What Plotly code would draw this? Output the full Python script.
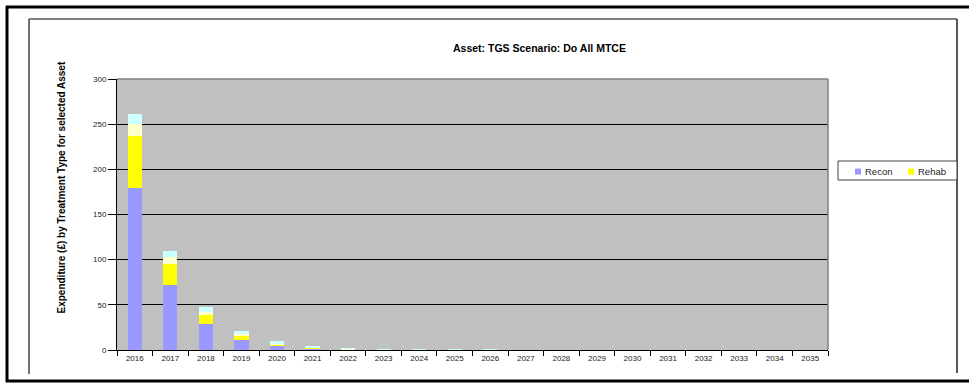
import plotly.graph_objects as go

# Expenditure by treatment type, per year
years = [str(y) for y in range(2016, 2036)]
recon = [179, 71.5, 29, 11.5, 4.5, 1.5, 0.6, 0.3, 0.15, 0.1, 0.05, 0, 0, 0, 0, 0, 0, 0, 0, 0]
rehab = [58, 23.5, 9.5, 4.5, 2.0, 1.0, 0.5, 0.2, 0.1, 0.05, 0.03, 0, 0, 0, 0, 0, 0, 0, 0, 0]
overlay = [13, 8, 3.5, 1.5, 1.0, 0.5, 0.3, 0.2, 0.1, 0.05, 0.02, 0, 0, 0, 0, 0, 0, 0, 0, 0]
surface = [11, 7, 5.5, 3.3, 2.0, 1.4, 0.6, 0.3, 0.15, 0.1, 0.05, 0, 0, 0, 0, 0, 0, 0, 0, 0]

series = [
    ("Recon", recon, "#9999FF"),
    ("Rehab", rehab, "#FFFF00"),
    ("Overlay", overlay, "#FFFFCC"),
    ("Surface", surface, "#CCFFFF"),
]
legend_names = ["Recon", "Rehab"]

W, H = 969, 383
L, R, T, B = 117, 828, 79, 350  # plot area in pixels


def px(x):
    return (x - L) / (R - L)


def py(y):
    return (B - y) / (B - T)


def hline(x0, x1, y, color, width):
    return dict(type="line", xref="paper", yref="paper", x0=px(x0), x1=px(x1),
                y0=py(y), y1=py(y), line=dict(color=color, width=width))


def vline(x, y0, y1, color, width):
    return dict(type="line", xref="paper", yref="paper", x0=px(x), x1=px(x),
                y0=py(y0), y1=py(y1), line=dict(color=color, width=width))


fig = go.Figure()
for name, vals, color in series:
    fig.add_trace(go.Bar(
        x=years, y=vals, name=name, marker=dict(color=color, line=dict(width=0)),
        showlegend=False,
    ))

sans = "Liberation Sans, Arial, sans-serif"

shapes = [
    # outer frame (top, left, bottom)
    hline(6, 969, 7, "black", 3),
    vline(7, 6, 382, "black", 3),
    hline(6, 969, 381, "black", 3),
    # inner frame
    hline(29, 957, 19, "#808080", 2),
    vline(29, 19, 374, "#404040", 1.5),
    vline(957, 19, 373, "#202020", 1.5),
    # plot-area top and right edges
    dict(type="line", xref="paper", yref="paper", x0=0, x1=1, y0=1, y1=1,
         line=dict(color="#808080", width=1.5)),
    dict(type="line", xref="paper", yref="paper", x0=1, x1=1, y0=0, y1=1,
         line=dict(color="#808080", width=1.5)),
    # legend box
    dict(type="rect", xref="paper", yref="paper", x0=px(838), x1=px(957), y0=py(161), y1=py(180),
         line=dict(color="#404040", width=1), fillcolor="white"),
]

annotations = [
    dict(text="<b>Asset: TGS Scenario: Do All MTCE</b>", xref="paper", yref="paper",
         x=px(539), y=py(40), showarrow=False, font=dict(size=10.5)),
    dict(text="<b>Expenditure (£) by Treatment Type for selected Asset</b>", xref="paper",
         yref="paper", x=px(53), y=py(188), textangle=-90, showarrow=False,
         font=dict(size=10)),
]

# legend entries: swatch + label
legend_x = [855, 908]
colors = {n: c for n, _, c in series}
for name, lx in zip(legend_names, legend_x):
    shapes.append(dict(type="rect", xref="paper", yref="paper", x0=px(lx), x1=px(lx + 6),
                       y0=py(168.5), y1=py(174.5), line=dict(width=0), fillcolor=colors[name]))
    annotations.append(dict(text=name, xref="paper", yref="paper", x=px(lx + 8), y=py(171.5),
                            xanchor="left", yanchor="middle", showarrow=False,
                            font=dict(size=9.5, family=sans, color="#222")))

fig.update_layout(
    width=W, height=H,
    margin=dict(l=L, r=W - R, t=T, b=H - B, autoexpand=False),
    paper_bgcolor="white", plot_bgcolor="#C0C0C0",
    barmode="stack", bargap=0.6,
    font=dict(family=sans, color="black"),
    shapes=shapes,
    annotations=annotations,
    showlegend=False,
)

fig.update_xaxes(
    type="category", tickson="boundaries", ticks="outside", ticklen=5, tickcolor="black",
    showline=True, linecolor="black", linewidth=1, showgrid=False,
    tickfont=dict(size=8, family=sans, color="#222"),
)
fig.update_yaxes(
    range=[0, 300], dtick=50, ticks="outside", ticklen=8, tickcolor="black",
    showline=True, linecolor="black", linewidth=1,
    showgrid=True, gridcolor="black", gridwidth=1, zeroline=False,
    tickfont=dict(size=8, family=sans, color="#222"),
)

fig.write_html("out.html", config={"displayModeBar": False})
